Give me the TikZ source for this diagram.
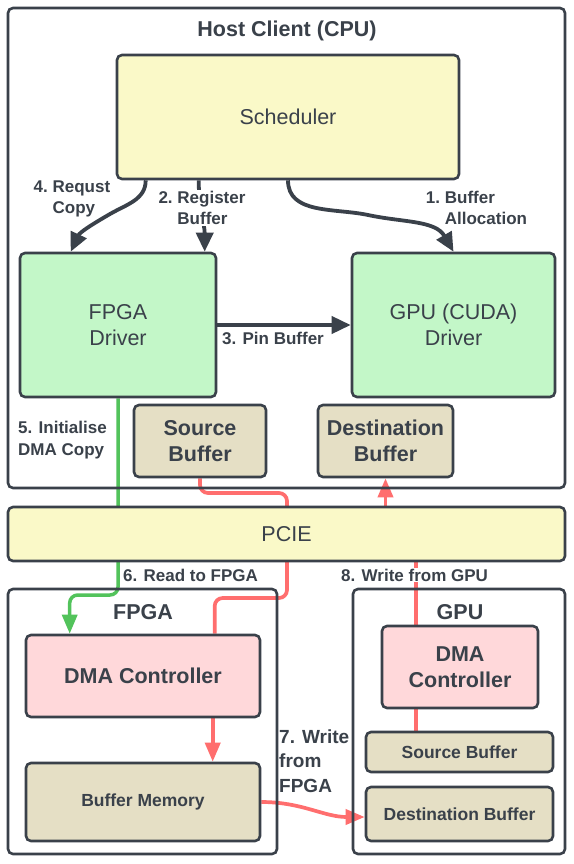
\documentclass[tikz,border=0pt]{standalone}
\usepackage{fontspec}
\setmainfont{Liberation Sans}
\usetikzlibrary{arrows.meta,calc}
\definecolor{ink}{HTML}{3A414A}
\definecolor{yel}{HTML}{FAF9C8}
\definecolor{grn}{HTML}{C3F7C8}
\definecolor{tanb}{HTML}{E5DFC5}
\definecolor{pnk}{HTML}{FFD8DA}
\definecolor{redl}{HTML}{FF6E6E}
\definecolor{grnl}{HTML}{52C35B}
\pgfdeclarelayer{bg}
\pgfsetlayers{bg,main}
\begin{document}
\begin{tikzpicture}[x=1pt,y=-1pt,
 box/.style={draw=ink, line width=2.6pt, rounded corners=5pt, text=ink, align=center, inner sep=0pt},
 big/.style={font=\fontsize{21.5}{25.5}\selectfont},
 bigb/.style={font=\fontsize{21.5}{26}\selectfont\bfseries},
 midb/.style={font=\fontsize{17.5}{21}\selectfont\bfseries},
 lab/.style={font=\fontsize{17}{21.5}\selectfont\bfseries, text=ink, inner sep=1pt},
 darr/.style={draw=ink, line width=3.8pt, -{Triangle[length=19pt,width=17pt]}},
 rline/.style={draw=redl, line width=3.7pt, rounded corners=8pt},
 rarr/.style={rline, -{Triangle[length=19pt,width=15pt]}},
 garr/.style={draw=grnl, line width=3.5pt, rounded corners=8pt, -{Triangle[length=19pt,width=15pt]}},
]
\useasboundingbox (0,0) rectangle (573,864);

% containers
\node[box, minimum width=557pt, minimum height=480pt] (host) at (286.5,248) {};
\node[bigb, text=ink] (hosttitle) at (287,31) {Host Client (CPU)};
\node[box, minimum width=269pt, minimum height=265pt] (fpga) at (142.5,721.5) {};
\node[bigb, text=ink] (fpgatitle) at (143,612) {FPGA};
\node[box, minimum width=212pt, minimum height=265pt] (gpu) at (459,721.5) {};
\node[bigb, text=ink] (gputitle) at (460,612) {GPU};

% boxes
\node[box, big, fill=yel, minimum width=342pt, minimum height=124pt] (sched) at (288,117) {Scheduler};
\node[box, big, fill=grn, minimum width=196pt, minimum height=144pt] (fdrv) at (118,325) {FPGA\\Driver};
\node[box, big, fill=grn, minimum width=203pt, minimum height=144pt] (gdrv) at (453.5,325) {GPU (CUDA)\\Driver};
\node[box, bigb, fill=tanb, minimum width=132pt, minimum height=72pt] (hsrc) at (200,441) {Source\\Buffer};
\node[box, bigb, fill=tanb, minimum width=135pt, minimum height=72pt] (hdst) at (385.5,441) {Destination\\Buffer};
\node[box, big, fill=yel, minimum width=557pt, minimum height=54pt] (pcie) at (286.5,534) {PCIE};
\node[box, bigb, fill=pnk, minimum width=234pt, minimum height=82pt] (fdma) at (143,676) {DMA Controller};
\node[box, midb, fill=tanb, minimum width=234pt, minimum height=78pt] (bmem) at (143,802) {Buffer Memory};
\node[box, bigb, fill=pnk, minimum width=156pt, minimum height=82pt] (gdma) at (460,667) {DMA\\Controller};
\node[box, midb, fill=tanb, minimum width=187pt, minimum height=40pt] (gsrc) at (459.5,752) {Source Buffer};
\node[box, midb, fill=tanb, minimum width=187pt, minimum height=54pt] (gdst) at (459.5,814) {Destination Buffer};

\coordinate (gx) at ($(fdma.north west)+(45,0)$);
\coordinate (fdin) at ($(fdma.north west)+(190,0)$);
\coordinate (mx) at ($(fdma.south west)+(188,0)$);
\coordinate (rx) at (287,0);
\coordinate (gx8) at ($(gdma.north west)+(35,0)$);

\begin{pgfonlayer}{bg}
\fill[white] (0,0) rectangle (573,864);
% dark connectors
\draw[darr] (sched.south) to[out=-90,in=168] (368,215) to[out=-12,in=120] (gdrv.north);
\draw[darr] ($(sched.south west)+(30,0)$) to[out=-90,in=30] (110,214) to[out=-150,in=65] ($(fdrv.north west)+(52,0)$);
\draw[darr] ($(sched.south west)+(83,0)$) to[out=-90,in=90] ($(fdrv.north west)+(186,0)$);
\draw[darr] (fdrv.east) -- (gdrv.west);
% green
\draw[garr] (fdrv.south) -- (fdrv.south |- 0,595) -- (gx |- 0,595) -- (gx);
% red
\draw[rline] (hsrc.south) -- (hsrc.south |- 0,493) -- (rx |- 0,493) -- (rx |- 0,598) -- (fdin |- 0,598) -- (fdin);
\draw[rarr] (mx) -- (mx |- bmem.north);
\draw[rarr] (hdst.south |- pcie.north) -- (hdst.south);
\draw[rline] (gx8 |- pcie.south) -- (gx8);
\draw[rline] (gx8 |- gdma.south) -- (gx8 |- gsrc.north);
\draw[rarr] (bmem.east) to[out=0,in=180] ($(gdst.west)+(0,3)$);
\end{pgfonlayer}

% labels
\node[lab, align=left] (l4) at (72,199) {4.~Requst\\\phantom{4.~}Copy};
\node[lab, fill=white, align=left] (l2) at (202,208) {2.~Register\\\phantom{2.~}Buffer};
\node[lab, align=left] (l1) at (476.5,208) {1.~Buffer\\\phantom{1.~}Allocation};
\node[lab] (l3) at (273,338) {3. Pin Buffer};
\node[lab, align=left, anchor=west] (l5) at (17,440) {5. Initialise\\DMA Copy};
\node[lab, anchor=west] (l6) at (122,575) {6. Read to FPGA};
\node[lab, fill=white, anchor=west] (l8) at (340,575) {8. Write from GPU};
\node[lab, font=\fontsize{19}{24.5}\selectfont\bfseries, align=left, anchor=west] (l7) at (278,761) {7. Write\\from\\FPGA};
\end{tikzpicture}
\end{document}
